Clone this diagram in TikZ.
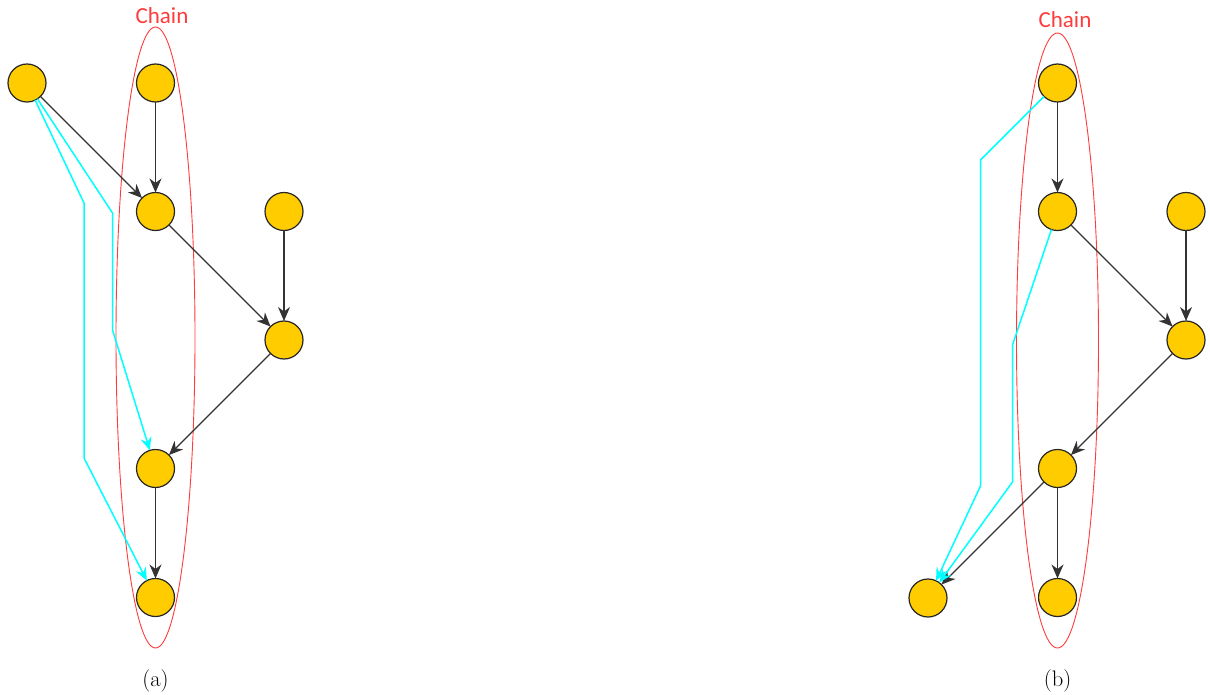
\documentclass[tikz,border=0pt]{standalone}
\usepackage{fontspec}
\newfontfamily\chainfont{Carlito}
\usetikzlibrary{arrows.meta,shapes.geometric}
\definecolor{nodefill}{HTML}{FFCC00}
\definecolor{edgecol}{HTML}{333333}
\definecolor{chainred}{HTML}{FF3B3B}
\definecolor{cyanline}{HTML}{00FFFF}
\tikzset{
  vert/.style={circle, draw=black!85, line width=1.2pt, fill=nodefill, minimum size=38pt, inner sep=0pt, outer sep=0pt},
  dep/.style={draw=edgecol, line width=1.3pt, -{Stealth[length=14pt, width=12pt, inset=4.5pt]}},
  via/.style={draw=cyanline, line width=1.5pt, -{Stealth[length=13pt, width=11pt, inset=4.5pt]}},
  chainoval/.style={ellipse, draw=chainred, line width=0.9pt, inner sep=0pt, outer sep=0pt},
  chainlbl/.style={text=chainred, font=\chainfont\fontsize{23}{26}\selectfont, inner sep=0pt},
  caplbl/.style={font=\fontsize{22.5}{25}\selectfont, inner sep=0pt}
}
\begin{document}
\begin{tikzpicture}[x=1pt,y=-1pt]
\useasboundingbox (0,0) rectangle (1210,695);
% ----- panel (a)
\node[chainoval, minimum width=79pt, minimum height=621pt] (ovA) at (155.5,337.5) {};
\node[chainlbl] (chA) at (162,16) {Chain};
\node[vert] (a1) at (27,83) {};
\node[vert] (a2) at (155.5,83) {};
\node[vert] (a3) at (155.5,211.5) {};
\node[vert] (a4) at (284,211.5) {};
\node[vert] (a5) at (284,340) {};
\node[vert] (a6) at (155.5,468.5) {};
\node[vert] (a7) at (155.5,597.5) {};
\draw[dep] (a2) -- (a3);
\draw[dep] (a1) -- (a3);
\draw[dep] (a3) -- (a5);
\draw[dep] (a4) -- (a5);
\draw[dep] (a5) -- (a6);
\draw[dep] (a6) -- (a7);
\coordinate (ca1) at (84,203);
\coordinate (ca2) at (84,458);
\coordinate (cb1) at (112.5,213);
\coordinate (cb2) at (112.5,330);
\draw[via] (a1) -- (ca1) -- (ca2) -- (a7);
\draw[via] (a1) -- (cb1) -- (cb2) -- (a6);
\node[caplbl] (capA) at (155.5,681) {(a)};
% ----- panel (b)
\node[chainoval, minimum width=82pt, minimum height=615pt] (ovB) at (1057.5,340.5) {};
\node[chainlbl] (chB) at (1065,20) {Chain};
\node[vert] (b1) at (1057.5,83) {};
\node[vert] (b2) at (1057.5,211.5) {};
\node[vert] (b3) at (1186,211.5) {};
\node[vert] (b4) at (1186,340) {};
\node[vert] (b5) at (1057.5,468.5) {};
\node[vert] (b6) at (1057.5,597.5) {};
\node[vert] (b7) at (928,598) {};
\draw[dep] (b1) -- (b2);
\draw[dep] (b2) -- (b4);
\draw[dep] (b3) -- (b4);
\draw[dep] (b4) -- (b5);
\draw[dep] (b5) -- (b6);
\draw[dep] (b5) -- (b7);
\coordinate (cc1) at (980.5,160);
\coordinate (cc2) at (980.5,486);
\coordinate (cd1) at (1012.5,345);
\coordinate (cd2) at (1012.5,482);
\draw[via] (b1) -- (cc1) -- (cc2) -- (b7);
\draw[via] (b2) -- (cd1) -- (cd2) -- (b7);
\node[caplbl] (capB) at (1057.5,681) {(b)};
\end{tikzpicture}
\end{document}
